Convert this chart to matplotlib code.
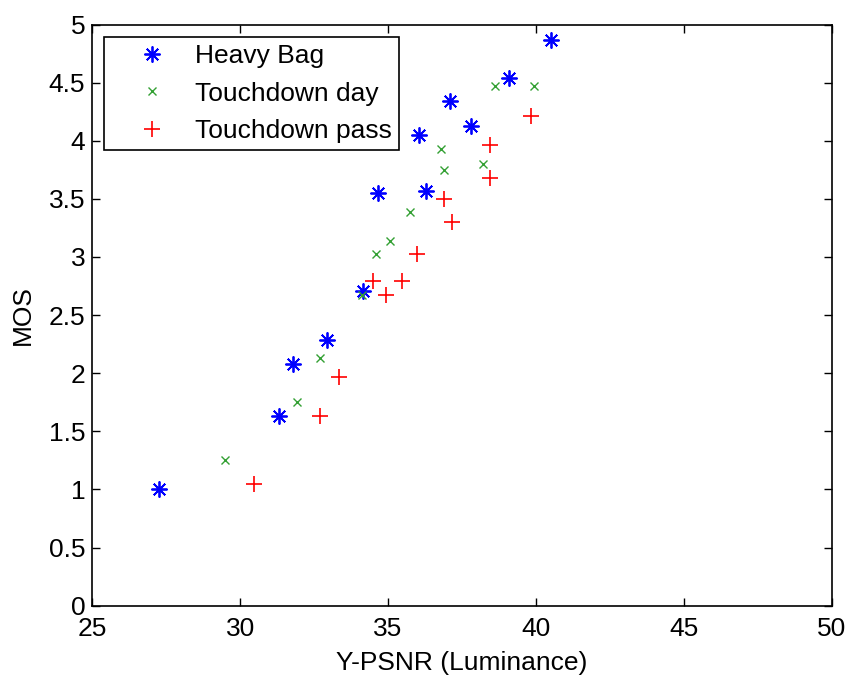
import numpy as np
import matplotlib.pyplot as plt

plt.rcParams['font.family'] = ['Liberation Sans', 'DejaVu Sans']

# values
heavy_bag_psnr = [27.25, 31.32, 31.77, 32.93, 34.14, 34.65, 36.27, 36.04, 37.08, 37.80, 39.09, 40.51]
heavy_bag_mos = [1.00, 1.63, 2.08, 2.29, 2.71, 3.55, 3.57, 4.05, 4.34, 4.13, 4.54, 4.87]

td_day_psnr = [29.49, 31.91, 32.70, 34.11, 34.60, 35.06, 35.75, 36.78, 36.90, 38.22, 38.62, 39.94]
td_day_mos = [1.25, 1.75, 2.13, 2.67, 3.03, 3.14, 3.39, 3.93, 3.75, 3.80, 4.47, 4.47]

td_pass_psnr = [30.47, 32.70, 33.34, 34.49, 34.94, 35.47, 35.99, 36.90, 37.17, 38.44, 38.44, 39.83]
td_pass_mos = [1.05, 1.63, 1.97, 2.79, 2.67, 2.79, 3.03, 3.50, 3.30, 3.68, 3.96, 4.21]

xticks = [25, 30, 35, 40, 45, 50]
yticks = [0, 0.5, 1, 1.5, 2, 2.5, 3, 3.5, 4, 4.5, 5]
ytick_labels = ['0', '0.5', '1', '1.5', '2', '2.5', '3', '3.5', '4', '4.5', '5']

fs = 19

fig = plt.figure(figsize=(8.49, 6.77), dpi=100)
ax = fig.add_axes([0.1087, 0.1053, 0.8709, 0.8585])

ax.plot(heavy_bag_psnr, heavy_bag_mos, linestyle='none', marker=(8, 2, 0),
	markersize=11.5, markeredgewidth=1.3, color='blue', label='Heavy Bag')
ax.plot(td_day_psnr, td_day_mos, linestyle='none', marker='x',
	markersize=6, markeredgewidth=1.0, color='#33a033', label='Touchdown day')
ax.plot(td_pass_psnr, td_pass_mos, linestyle='none', marker='+',
	markersize=12, markeredgewidth=1.2, color='red', label='Touchdown pass')

ax.set_xlim(25, 50)
ax.set_ylim(0, 5)
ax.set_xticks(xticks)
ax.set_yticks(yticks)
ax.set_yticklabels(ytick_labels)
ax.tick_params(direction='in', length=6, width=1, top=True, right=True,
	labelsize=fs)
ax.tick_params(axis='x', pad=8)
ax.tick_params(axis='y', pad=5)
for s in ax.spines.values():
	s.set_linewidth(1.2)

ax.set_xlabel('Y-PSNR (Luminance)', fontsize=fs, labelpad=7)
ax.set_ylabel('MOS', fontsize=fs, labelpad=10)

leg = ax.legend(loc='upper left', bbox_to_anchor=(0.0158, 0.9785), borderaxespad=0,
	fontsize=fs, fancybox=False, edgecolor='black', framealpha=1,
	handlelength=3.06, handletextpad=0.1, borderpad=0.28, labelspacing=0.5)
leg.get_frame().set_linewidth(1.2)

fig.savefig('out.png', dpi=100)
